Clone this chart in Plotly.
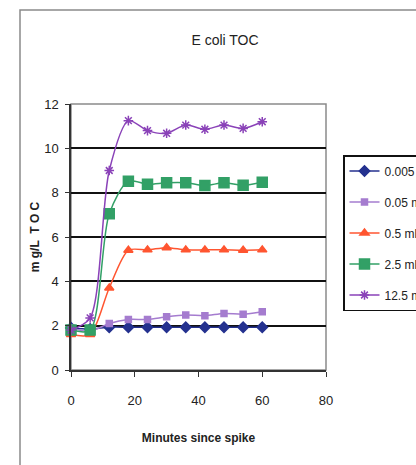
import plotly.graph_objects as go

minutes = [0, 6, 12, 18, 24, 30, 36, 42, 48, 54, 60]
series_names = ["0.005 ml/L", "0.05 ml/L", "0.5 ml/L", "2.5 ml/L", "12.5 ml/L"]
s_0005 = [1.9, 1.85, 1.93, 1.93, 1.93, 1.93, 1.93, 1.93, 1.93, 1.93, 1.93]
s_005 = [1.9, 1.75, 2.1, 2.28, 2.28, 2.4, 2.48, 2.45, 2.55, 2.52, 2.63]
s_05 = [1.6, 1.6, 3.7, 5.4, 5.42, 5.52, 5.42, 5.42, 5.42, 5.4, 5.42]
s_25 = [1.8, 1.8, 7.05, 8.52, 8.38, 8.45, 8.45, 8.32, 8.45, 8.33, 8.47]
s_125 = [1.8, 2.35, 9.0, 11.25, 10.8, 10.68, 11.05, 10.86, 11.05, 10.9, 11.2]
values = [s_0005, s_005, s_05, s_25, s_125]

colors = ["#24318f", "#a57ccf", "#ff5530", "#32a066", "#8a42b8"]
symbols = ["diamond", "square", "triangle-up", "square", "asterisk-open"]
msizes = [8, 6, 8, 10, 8]

FONT = "Liberation Sans, Arial, sans-serif"

fig = go.Figure()
for name, vals, c, sym, ms in zip(series_names, values, colors, symbols, msizes):
    fig.add_trace(go.Scatter(
        x=minutes, y=vals, name=name, legendgroup=name,
        mode="lines+markers",
        line=dict(color=c, width=1.5, shape="spline", smoothing=0.8),
        marker=dict(symbol=sym, size=ms, color=c, line=dict(color=c, width=1.5)),
        cliponaxis=False,
    ))

fig.update_layout(
    width=416, height=465,
    margin=dict(l=71, r=90, t=104, b=95, autoexpand=False),
    paper_bgcolor="white", plot_bgcolor="white",
    title=dict(text="E coli TOC", x=225 / 416, xanchor="center",
               y=1 - 40 / 465, yanchor="middle",
               font=dict(family=FONT, size=14, color="#222")),
    font=dict(family=FONT, size=12, color="#222"),
    xaxis=dict(range=[0, 80], tickvals=[0, 20, 40, 60, 80], showgrid=False,
               zeroline=False, showline=True, linecolor="#333", linewidth=1.5,
               ticks="outside", ticklen=5, tickcolor="#333", ticklabelstandoff=13,
               tickfont=dict(family=FONT, size=13, color="#222"),
               title=dict(text="<b>Minutes since spike</b>", standoff=26,
                          font=dict(family=FONT, size=12, color="#222"))),
    yaxis=dict(range=[0, 12], tickvals=[0, 2, 4, 6, 8, 10, 12], showgrid=True,
               gridcolor="#111", gridwidth=1.5, zeroline=False, showline=True,
               linecolor="#333", linewidth=1.5, ticks="outside", ticklen=4,
               tickcolor="#333", ticklabelstandoff=4,
               tickfont=dict(family=FONT, size=13, color="#222"),
               title=dict(text="<b>m g/L  T O C</b>", standoff=2,
                          font=dict(family=FONT, size=12, color="#222"))),
    legend=dict(x=(343 - 71) / 255, xanchor="left", y=(370 - 155) / 266, yanchor="top",
                bordercolor="#111", borderwidth=1.5, bgcolor="white",
                tracegroupgap=12, itemwidth=30,
                font=dict(family=FONT, size=12, color="#222")),
    shapes=[
        dict(type="rect", xref="paper", yref="paper", x0=0, x1=1, y0=0, y1=1,
             line=dict(color="#8a8a8a", width=1.5), layer="below"),
        dict(type="rect", xref="paper", yref="paper", x0=(20 - 71) / 255, x1=1.6,
             y0=-0.5, y1=(370 - 10) / 266, line=dict(color="#8a8a8a", width=1.5)),
    ],
)

fig.write_html("out.html")
